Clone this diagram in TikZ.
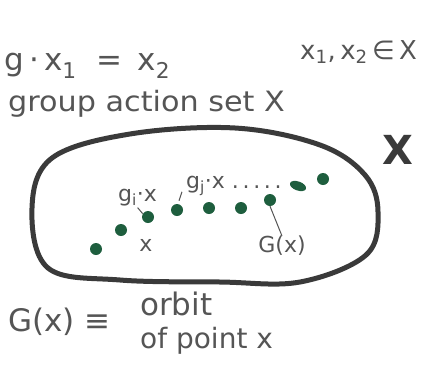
\documentclass[tikz,border=0pt]{standalone}
\usepackage{fontspec}
\usetikzlibrary{shapes.geometric}
\setmainfont{DejaVu Sans}[Scale=1]
\definecolor{ink}{HTML}{555555}
\definecolor{dotgreen}{HTML}{1E5E3E}
\definecolor{blob}{HTML}{3A3A3A}
\begin{document}
\begin{tikzpicture}[x=1pt,y=-1pt,
  big/.style={text=ink, inner sep=0pt, font=\fontsize{31}{33}\selectfont},
  hand/.style={text=ink, inner sep=0pt, font=\fontsize{28}{30}\selectfont},
  mid/.style={text=ink, inner sep=0pt, font=\fontsize{26}{28}\selectfont},
  small/.style={text=ink, inner sep=0pt, font=\fontsize{22}{24}\selectfont},
  pt/.style={circle, fill=dotgreen, inner sep=0pt, minimum size=12pt},
  tick/.style={draw=ink, line width=1pt},
  outline/.style={draw=blob, line width=5pt, line cap=round}]
\useasboundingbox (0,0) rectangle (443,372);
% top formula
\node[big, anchor=west] (eq) at (4,66) {g\,·\,x\textsubscript{1} \ = \,x\textsubscript{2}};
\node[mid, anchor=west] (mem) at (300,52) {x\textsubscript{1},\,x\textsubscript{2}\,∈\,X};
\node[hand, anchor=west, xscale=1.08] (ga) at (8,104) {group action set X};
\node[text=blob, inner sep=0pt, font=\fontsize{40}{40}\selectfont\bfseries] (bigX) at (398,150) {X};
% blob
\draw[outline] plot[smooth cycle, tension=0.6] coordinates {
  (32,208) (52,158) (130,134) (235,128) (320,145) (365,175) (378,212)
  (366,255) (300,282) (220,282) (120,280) (48,268)};
% dots
\node[pt] (d1) at (96,249) {};
\node[pt] (d2) at (121,230) {};
\node[pt] (d3) at (148,217) {};
\node[pt] (d4) at (177,210) {};
\node[pt] (d5) at (209,208) {};
\node[pt] (d6) at (241,208) {};
\node[pt] (d7) at (270,200) {};
\node[ellipse, fill=dotgreen, inner sep=0pt, minimum width=17pt, minimum height=9pt, rotate=-20] (d8) at (298,186) {};
\node[pt] (d9) at (323,179) {};
% labels inside
\node[small, anchor=south west] (gix) at (118,206) {g\textsubscript{i}·x};
\node[small, anchor=south west] (gjx) at (186,196) {g\textsubscript{j}·x\ .\,.\,.\,.\,.};
\node[small] (xl) at (146,245) {x};
\node[small] (Gx) at (282,246) {G(x)};
\draw[tick] (d3.north west) ++(-1,1) -- ++(-5,-6);
\draw[tick] (d4.north) ++(2,-3) -- ++(3,-9);
\draw[tick] (d7.south) -- (Gx.north);
% bottom definition
\node[big, anchor=west] (Gdef) at (8,322) {G(x) ≡};
\node[big, anchor=west] (orb) at (140,304) {orbit};
\node[hand, anchor=west] (pt2) at (140,341) {of point x};
\end{tikzpicture}
\end{document}
